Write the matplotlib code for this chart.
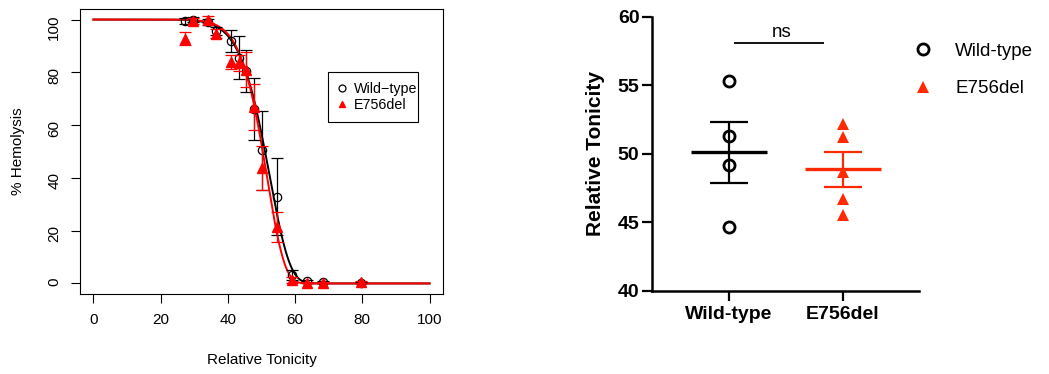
import numpy as np
import matplotlib
matplotlib.use("Agg")
import matplotlib.pyplot as plt
from matplotlib.lines import Line2D
from matplotlib.patches import Rectangle

plt.rcParams["font.family"] = ["Liberation Sans", "DejaVu Sans"]

# ── Data: hemolysis curve ─────────────────────────────────────────────────────
TONICITY = [27.3, 29.5, 34.1, 36.4, 40.9, 43.2, 45.5, 47.7, 50.0, 54.5, 59.1, 63.6, 68.2, 79.5]

WT_HEMO = [99.5, 100.0, 99.1, 95.5, 91.9, 85.6, 80.5, 66.2, 50.4, 32.9, 3.3, 0.8, 0.5, 0.3]
WT_ERR = [1.2, 1.0, 1.3, 1.5, 4.3, 8.2, 8.0, 11.8, 15.0, 14.6, 1.9, 0.5, 0.3, 0.3]

MUT_HEMO = [92.8, 99.5, 100.0, 94.7, 83.9, 83.5, 81.0, 66.8, 43.7, 21.3, 1.3, 0.3, 0.3, 0.5]
MUT_ERR = [2.5, 1.0, 1.2, 1.8, 2.7, 3.0, 6.7, 8.7, 8.4, 5.7, 1.0, 0.3, 0.3, 0.3]

# fitted Weibull curves: (slope b, inflection e)
WT_FIT = (9.76, 53.0)
MUT_FIT = (10.86, 52.1)

# ── Data: relative tonicity at 50% lysis ─────────────────────────────────────
GROUPS = ["Wild-type", "E756del"]
WT_T50 = [55.33, 51.27, 49.15, 44.63]
MUT_T50 = [52.17, 51.20, 48.69, 46.72, 45.53]

RED = "#ff2a00"


def weibull(x, b, e):
    with np.errstate(divide="ignore"):
        return 100 * np.exp(-np.exp(b * (np.log(x) - np.log(e))))


fig = plt.figure(figsize=(10.49, 3.74), dpi=100)

# ── Left: R-style hemolysis plot ─────────────────────────────────────────────
ax = fig.add_axes([80 / 1049, 80 / 374, 363 / 1049, 285 / 374])
xs = np.linspace(0, 100, 600)
ax.plot(xs, weibull(xs, *WT_FIT), color="black", lw=1.4, zorder=3)
ax.plot(xs, weibull(xs, *MUT_FIT), color="red", lw=1.4, zorder=3)

ax.errorbar(TONICITY, WT_HEMO, yerr=WT_ERR, fmt="o", ms=6, mfc="none", mec="black",
            mew=0.9, ecolor="black", elinewidth=0.9, capsize=4, capthick=0.9, zorder=4)
ax.errorbar(TONICITY, MUT_HEMO, yerr=MUT_ERR, fmt="^", ms=6.5, mfc="red", mec="red",
            ecolor="red", elinewidth=0.9, capsize=4, capthick=0.9, zorder=5)

ax.set_xlim(-4, 104)
ax.set_ylim(-4, 104)
ax.set_xticks(range(0, 101, 20))
ax.set_yticks(range(0, 101, 20))
ax.tick_params(direction="out", length=6.5, width=0.8, labelsize=11, pad=7)
ax.tick_params(axis="y", labelrotation=90)
for s in ax.spines.values():
    s.set_linewidth(0.8)
ax.set_xlabel("Relative Tonicity", fontsize=11, labelpad=19)
ax.set_ylabel("% Hemolysis", fontsize=11, labelpad=16)

handles = [
    Line2D([], [], ls="none", marker="o", ms=5, mfc="none", mec="black", mew=0.9),
    Line2D([], [], ls="none", marker="^", ms=5, mfc="red", mec="red"),
]
ax.legend(handles, ["Wild\u2212type", "E756del"], loc="upper left",
          bbox_to_anchor=(0.701, 0.744), borderaxespad=0, borderpad=0,
          fontsize=10.3, handlelength=1.0, handletextpad=0.35,
          labelspacing=0.15, frameon=False)
ax.add_patch(Rectangle((0.684, 0.6025), 0.248, 0.1755, transform=ax.transAxes,
                       fill=False, ec="black", lw=0.8, zorder=6))

# ── Right: Prism-style scatter with mean ± SEM ───────────────────────────────
ax2 = fig.add_axes([652 / 1049, 83.3 / 374, 267 / 1049, 274 / 374])
for i, (vals, marker, color) in enumerate([(WT_T50, "o", "black"), (MUT_T50, "^", RED)]):
    v = np.array(vals)
    mean = v.mean()
    sem = v.std(ddof=1) / np.sqrt(len(v))
    if marker == "o":
        ax2.plot([i] * len(v), v, "o", ms=8, mfc="none", mec=color, mew=2, zorder=4)
    else:
        ax2.plot([i] * len(v), v, "^", ms=8, mfc=color, mec=color, mew=0, zorder=4)
    ax2.hlines(mean, i - 0.333, i + 0.333, color=color, lw=2.4, zorder=3)
    ax2.vlines(i, mean - sem, mean + sem, color=color, lw=1.6, zorder=3)
    ax2.hlines([mean - sem, mean + sem], i - 0.167, i + 0.167, color=color, lw=1.6, zorder=3)

ax2.set_xlim(-0.675, 1.667)
ax2.set_ylim(40, 60)
ax2.set_yticks(range(40, 61, 5))
ax2.set_xticks([0, 1])
ax2.set_xticklabels(GROUPS, fontsize=14, fontweight="bold")
ax2.tick_params(axis="y", labelsize=14, width=1.6, length=7, pad=2)
ax2.tick_params(axis="x", width=1.6, length=7, pad=4)
for lbl in ax2.get_yticklabels():
    lbl.set_fontweight("bold")
for side in ["top", "right"]:
    ax2.spines[side].set_visible(False)
for side in ["left", "bottom"]:
    ax2.spines[side].set_linewidth(1.8)
ax2.set_ylabel("Relative Tonicity", fontsize=15, fontweight="bold", labelpad=9.5)

ax2.hlines(58.06, 0.044, 0.833, color="black", lw=1.3, clip_on=False)
ax2.text(0.46, 58.55, "ns", ha="center", va="baseline", fontsize=13.5, clip_on=False)

handles2 = [
    Line2D([], [], ls="none", marker="o", ms=8, mfc="none", mec="black", mew=2),
    Line2D([], [], ls="none", marker="^", ms=8, mfc=RED, mec=RED, mew=0),
]
ax2.legend(handles2, GROUPS, loc="upper left", bbox_to_anchor=(0.981, 0.906),
           frameon=False, fontsize=13.5, handlelength=1.0, handletextpad=1.2,
           labelspacing=1.1, borderaxespad=0, borderpad=0)

fig.savefig("out.png", dpi=100)
